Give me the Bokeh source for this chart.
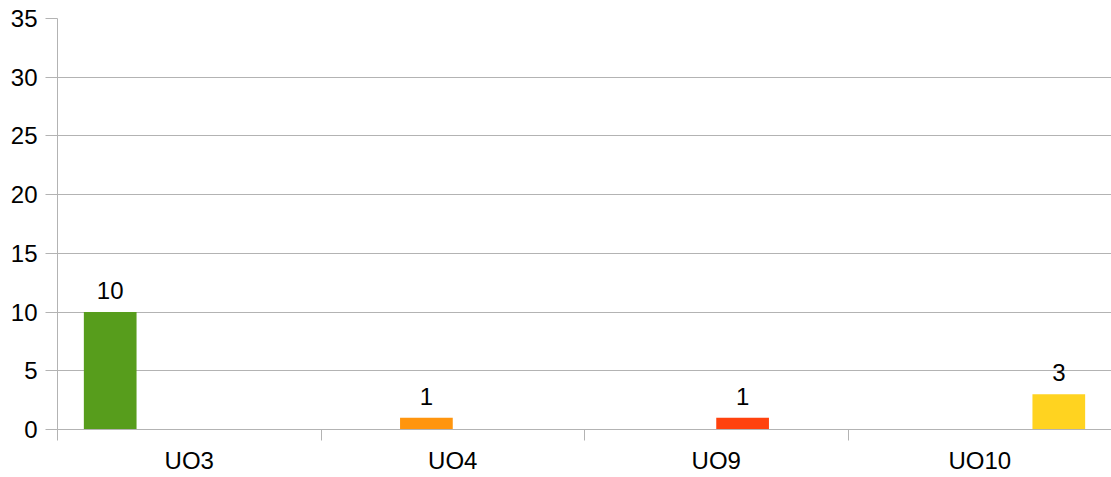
from bokeh.plotting import figure
from bokeh.models import Range1d, FixedTicker, ColumnDataSource, LabelSet
from bokeh.core.properties import value
from bokeh.embed import file_html
from bokeh.resources import INLINE
import numpy as np

categories = ["UO3", "UO4", "UO9", "UO10"]
series_a = [10, 0, 0, 0]
series_b = [0, 1, 0, 0]
series_c = [0, 0, 1, 0]
series_d = [0, 0, 0, 3]
series = [series_a, series_b, series_c, series_d]
colors = ["#579d1c", "#ff950e", "#ff420e", "#ffd320"]
y_ticks = [0, 5, 10, 15, 20, 25, 30, 35]

FONT = "Liberation Sans"
FS = "24px"

p = figure(output_backend="svg", toolbar_location=None,
           x_range=Range1d(0, len(categories)), y_range=Range1d(0, 35),
           frame_width=1054, frame_height=411,
           min_border_left=57, min_border_top=18, min_border_right=0, min_border_bottom=48)
p.outline_line_color = None
p.background_fill_color = "white"

n = len(series)
bar_w = 0.2
centers = np.arange(len(categories)) + 0.5
for i, (vals, col) in enumerate(zip(series, colors)):
    offs = (i - (n - 1) / 2) * bar_w
    xs = centers + offs
    src = ColumnDataSource(dict(x=xs, top=vals))
    p.vbar(x="x", top="top", width=bar_w, source=src, fill_color=col, line_color=None)
    nz = [j for j, v in enumerate(vals) if v != 0]
    lsrc = ColumnDataSource(dict(x=[xs[j] for j in nz], y=[vals[j] for j in nz],
                                 t=[str(vals[j]) for j in nz]))
    p.add_layout(LabelSet(x="x", y="y", text="t", source=lsrc, text_align="center",
                          text_baseline="bottom", y_offset=13, text_font=value(FONT),
                          text_font_size=value(FS), text_color="black"))

# x axis
xa = p.xaxis[0]
xa.ticker = FixedTicker(ticks=list(centers), minor_ticks=list(range(len(categories) + 1)))
xa.major_label_overrides = {float(c): cat for c, cat in zip(centers, categories)}
xa.major_tick_out = 0
xa.major_tick_in = 0
xa.minor_tick_out = 11
xa.minor_tick_in = 0
xa.minor_tick_line_color = "#b3b3b3"
xa.axis_line_color = "#b3b3b3"
xa.major_label_text_font = FONT
xa.major_label_text_font_size = FS
xa.major_label_text_color = "black"
xa.major_label_standoff = 6

# y axis
ya = p.yaxis[0]
ya.ticker = FixedTicker(ticks=y_ticks, minor_ticks=[])
ya.major_tick_out = 12
ya.major_tick_in = 0
ya.major_tick_line_color = "#b3b3b3"
ya.axis_line_color = "#b3b3b3"
ya.major_label_text_font = FONT
ya.major_label_text_font_size = FS
ya.major_label_text_color = "black"
ya.major_label_standoff = 8

p.xgrid.grid_line_color = None
p.ygrid.grid_line_color = "#b3b3b3"
p.ygrid.ticker = FixedTicker(ticks=y_ticks)

open("out.html", "w").write(file_html(p, INLINE))
